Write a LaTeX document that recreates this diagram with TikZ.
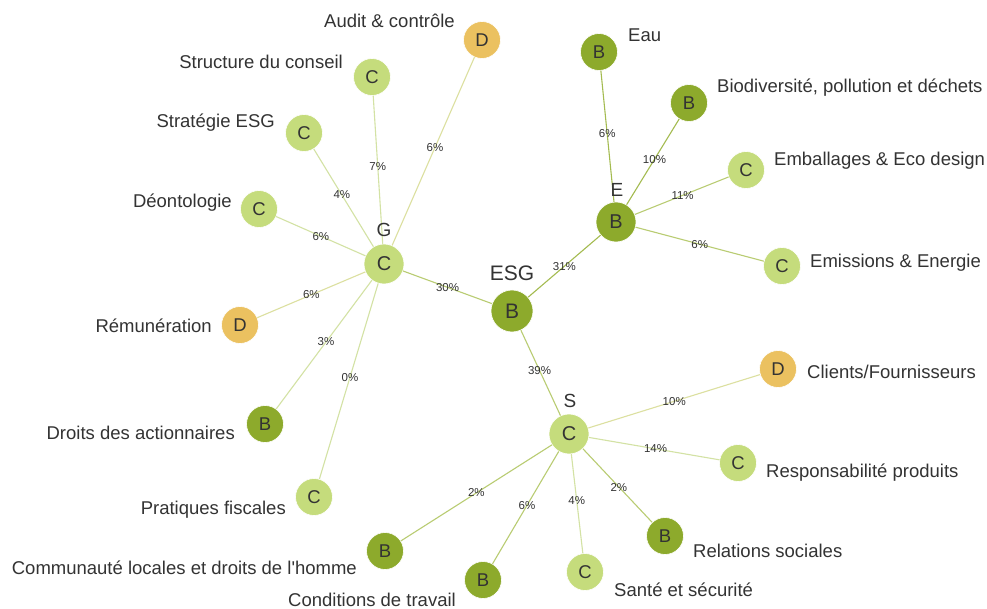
\documentclass[tikz,border=0pt]{standalone}
\usepackage{fontspec}
\setmainfont{Liberation Sans}[Ligatures=TeXOff]
\definecolor{cB}{HTML}{8DAA2C}
\definecolor{cC}{HTML}{C5DC7C}
\definecolor{cD}{HTML}{EBC160}
\definecolor{txt}{HTML}{333333}
\definecolor{lBB}{HTML}{A4BB50}
\definecolor{lBC}{HTML}{B9CC72}
\definecolor{lCC}{HTML}{D3E2A4}
\definecolor{lCD}{HTML}{DCE0A0}
\definecolor{lBD}{HTML}{C8CC80}
\tikzset{
  nd/.style={circle,inner sep=0pt,minimum size=37pt,text=txt,font=\fontsize{18.5}{20}\selectfont,draw=white,line width=0.6pt},
  nB/.style={nd,fill=cB},
  nC/.style={nd,fill=cC},
  nD/.style={nd,fill=cD},
  hub/.style={minimum size=40pt,font=\fontsize{20}{22}\selectfont},
  lab/.style={text=txt,font=\fontsize{18.5}{21}\selectfont,inner sep=0pt},
  hlab/.style={text=txt,font=\fontsize{19}{22}\selectfont,inner sep=0pt},
  lk/.style={line width=1.1pt},
  pc/.style={text=txt,font=\fontsize{11.5}{13}\selectfont,inner sep=0pt,pos=0.5}
}
\begin{document}
\begin{tikzpicture}[x=1pt,y=-1pt]
\useasboundingbox[fill=white] (0,0) rectangle (987,609);
% hubs
\node[nB,hub,minimum size=42pt,font=\fontsize{21}{24}\selectfont] (esg) at (512,311) {B};
\node[nC,hub] (g) at (384,264) {C};
\node[nB,hub] (e) at (616,222) {B};
\node[nC,hub] (s) at (569,434) {C};
% G leaves
\node[nD] (aud) at (482,40) {D};
\node[nC] (str) at (372,77) {C};
\node[nC] (stg) at (304,133) {C};
\node[nC] (deo) at (259,209) {C};
\node[nD] (rem) at (240,325) {D};
\node[nB] (dro) at (265,424) {B};
\node[nC] (pra) at (314,497) {C};
% E leaves
\node[nB] (eau) at (599,52) {B};
\node[nB] (bio) at (689,103) {B};
\node[nC] (emb) at (746,170) {C};
\node[nC] (emi) at (782,266) {C};
% S leaves
\node[nD] (cli) at (778,369) {D};
\node[nC] (res) at (738,463) {C};
\node[nB] (rel) at (665,536) {B};
\node[nC] (san) at (585,572) {C};
\node[nB] (con) at (483,580) {B};
\node[nB] (com) at (385,551) {B};
% links
\draw[lk,lBC] (esg) -- node[pc]{30\%} (g);
\draw[lk,lBB] (esg) -- node[pc]{31\%} (e);
\draw[lk,lBC] (esg) -- node[pc,pos=0.47]{39\%} (s);
\draw[lk,lCD] (g) -- node[pc,pos=0.52]{6\%} (aud);
\draw[lk,lCC] (g) -- node[pc,pos=0.52]{7\%} (str);
\draw[lk,lCC] (g) -- node[pc,pos=0.53]{4\%} (stg);
\draw[lk,lCC] (g) -- node[pc]{6\%} (deo);
\draw[lk,lCD] (g) -- node[pc]{6\%} (rem);
\draw[lk,lCC] (g) -- node[pc,pos=0.48]{3\%} (dro);
\draw[lk,lCC] (g) -- node[pc,pos=0.48]{0\%} (pra);
\draw[lk,lBB] (e) -- node[pc,pos=0.52]{6\%} (eau);
\draw[lk,lBB] (e) -- node[pc,pos=0.53]{10\%} (bio);
\draw[lk,lBC] (e) -- node[pc,pos=0.51]{11\%} (emb);
\draw[lk,lBC] (e) -- node[pc]{6\%} (emi);
\draw[lk,lCD] (s) -- node[pc]{10\%} (cli);
\draw[lk,lCC] (s) -- node[pc,pos=0.51]{14\%} (res);
\draw[lk,lBC] (s) -- node[pc,pos=0.52]{2\%} (rel);
\draw[lk,lCC] (s) -- node[pc,pos=0.47]{4\%} (san);
\draw[lk,lBC] (s) -- node[pc,pos=0.48]{6\%} (con);
\draw[lk,lBC] (s) -- node[pc]{2\%} (com);
% hub labels
\node[hlab,font=\fontsize{21}{24}\selectfont] (lesg) at (512,273) {ESG};
\node[hlab] (lg) at (384,230) {G};
\node[hlab] (le) at (617,190) {E};
\node[hlab] (ls) at (570,401) {S};
% leaf labels (left side)
\node[lab,anchor=east] (laud) at (455,21) {Audit \& contrôle};
\node[lab,anchor=east] (lstr) at (343,62) {Structure du conseil};
\node[lab,anchor=east] (lstg) at (275,123) {Stratégie ESG};
\node[lab,anchor=east] (ldeo) at (232,203) {Déontologie};
\node[lab,anchor=east] (lrem) at (212,326) {Rémunération};
\node[lab,anchor=east] (ldro) at (235,433) {Droits des actionnaires};
\node[lab,anchor=east] (lpra) at (286,510) {Pratiques fiscales};
\node[lab,anchor=east] (lcom) at (357,568) {Communauté locales et droits de l'homme};
\node[lab,anchor=east] (lcon) at (456,600) {Conditions de travail};
% leaf labels (right side)
\node[lab,anchor=west] (leau) at (628,35) {Eau};
\node[lab,anchor=west] (lbio) at (717,88) {Biodiversité, pollution et déchets};
\node[lab,anchor=west] (lemb) at (774,161) {Emballages \& Eco design};
\node[lab,anchor=west] (lemi) at (810,263) {Emissions \& Energie};
\node[lab,anchor=west] (lcli) at (807,372) {Clients/Fournisseurs};
\node[lab,anchor=west] (lres) at (766,473) {Responsabilité produits};
\node[lab,anchor=west] (lrel) at (693,551) {Relations sociales};
\node[lab,anchor=west] (lsan) at (614,590) {Santé et sécurité};
\end{tikzpicture}
\end{document}
